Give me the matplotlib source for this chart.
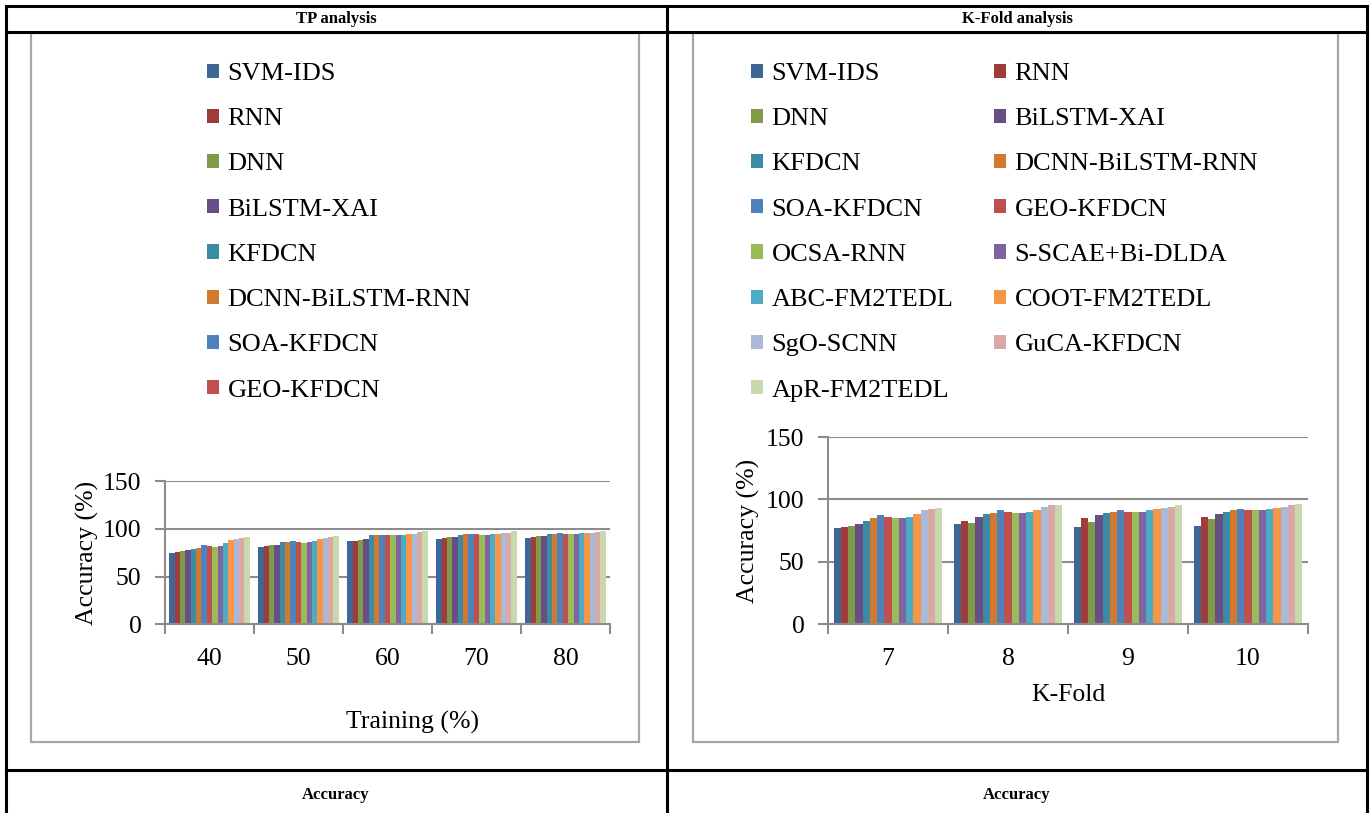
import matplotlib
matplotlib.use("Agg")
import matplotlib.pyplot as plt
import numpy as np
from matplotlib.lines import Line2D
from matplotlib.patches import Rectangle, Patch

plt.rcParams['font.family'] = ['Liberation Serif', 'DejaVu Serif']

# ---------------- data ----------------
methods = ["SVM-IDS", "RNN", "DNN", "BiLSTM-XAI", "KFDCN", "DCNN-BiLSTM-RNN",
           "SOA-KFDCN", "GEO-KFDCN", "OCSA-RNN", "S-SCAE+Bi-DLDA", "ABC-FM2TEDL",
           "COOT-FM2TEDL", "SgO-SCNN", "GuCA-KFDCN", "ApR-FM2TEDL"]
colors = ['#3E6696', '#A03D3B', '#809A48', '#674F86', '#3A8BA3', '#D0792F',
          '#4F81BD', '#C0504D', '#9BBB59', '#8064A2', '#4BACC6', '#F79646',
          '#AAB9D7', '#D9A9A8', '#C8D9AD']

training = ["40", "50", "60", "70", "80"]
# rows = methods, columns = training %
tp_acc = [
    [74.7, 80.6, 86.9, 89.8, 90.5],
    [75.8, 81.7, 87.7, 90.8, 91.6],
    [77.2, 82.7, 88.7, 91.6, 92.6],
    [78.2, 83.5, 89.8, 91.6, 92.6],
    [78.9, 85.9, 93.7, 93.7, 94.7],
    [80.0, 85.9, 93.7, 94.7, 94.7],
    [83.5, 87.7, 93.7, 94.7, 95.8],
    [82.1, 86.6, 93.7, 94.7, 94.7],
    [80.6, 85.6, 93.7, 93.7, 94.7],
    [82.1, 86.6, 93.7, 93.7, 94.7],
    [84.8, 87.7, 93.7, 94.7, 95.8],
    [88.7, 89.8, 94.7, 94.7, 95.8],
    [89.8, 90.8, 94.7, 95.8, 95.8],
    [90.8, 91.9, 96.1, 95.8, 96.8],
    [91.9, 92.9, 97.2, 97.2, 97.9],
]

kfold = ["7", "8", "9", "10"]
kf_acc = [
    [76.8, 80.0, 77.8, 78.9],
    [77.8, 82.9, 85.0, 86.1],
    [78.9, 81.0, 81.8, 84.0],
    [80.0, 86.1, 87.2, 88.2],
    [82.9, 88.2, 89.0, 90.1],
    [85.0, 89.0, 90.1, 91.2],
    [87.2, 91.2, 91.2, 92.2],
    [86.1, 90.1, 90.1, 91.2],
    [85.0, 89.0, 90.1, 91.2],
    [85.0, 89.0, 90.1, 91.2],
    [86.1, 90.1, 91.2, 92.2],
    [88.2, 91.2, 92.2, 93.0],
    [91.2, 94.1, 93.0, 94.1],
    [92.2, 95.2, 94.1, 95.2],
    [93.0, 95.2, 95.2, 96.3],
]

W, H = 1371, 813
fig = plt.figure(figsize=(W / 100, H / 100), dpi=100)

def fx(px):
    return px / W

def fy(py):
    return 1 - py / H

# ---------------- table frame ----------------
tl = 2.2
for (x0, y0, x1, y1) in [(6, 6, 1367, 6), (6, 32, 1367, 32), (6, 770, 1367, 770),
                         (6, 6, 6, 813), (667, 6, 667, 813), (1367, 6, 1367, 813)]:
    fig.add_artist(Line2D([fx(x0), fx(x1)], [fy(y0), fy(y1)], color='black',
                          lw=tl, solid_capstyle='projecting'))

# chart boxes
for (x0, y0, x1, y1) in [(31, 33, 639, 742), (693, 33, 1338, 742)]:
    fig.add_artist(Rectangle((fx(x0), fy(y1)), fx(x1) - fx(x0), fy(y0) - fy(y1),
                             fill=False, edgecolor='#a6a6a6', lw=1.6))

# headers
hdr = dict(fontsize=12, fontweight='bold', ha='center', va='center')
fig.text(fx(336), fy(19), "TP analysis", **hdr)
fig.text(fx(1017), fy(19), "K-Fold analysis", **hdr)
fig.text(fx(336), fy(795), "Accuracy", **hdr)
fig.text(fx(1017), fy(795), "Accuracy", **hdr)

FS = 18.5
GRID = '#8c8c8c'

def draw(ax, cats, data):
    n = len(data)
    x = np.arange(len(cats))
    w = 0.907 / n
    for i in range(n):
        ax.bar(x + (i - (n - 1) / 2) * w, data[i], width=w, color=colors[i], zorder=2)
    ax.set_xlim(-0.5, len(cats) - 0.5)
    ax.set_ylim(0, 150)
    ax.set_yticks([0, 50, 100, 150])
    ax.set_xticks(x)
    ax.set_xticklabels(cats)
    ax.set_xticks(np.arange(len(cats) + 1) - 0.5, minor=True)
    ax.tick_params(axis='x', which='major', length=0, labelsize=FS, pad=17)
    ax.tick_params(axis='x', which='minor', length=7, width=1.5, color=GRID)
    ax.tick_params(axis='y', length=7, width=1.5, color=GRID, labelsize=FS, pad=10)
    ax.set_axisbelow(True)
    ax.yaxis.grid(True, color=GRID, lw=1.5, zorder=0)
    for s in ['top', 'right']:
        ax.spines[s].set_visible(False)
    for s in ['left', 'bottom']:
        ax.spines[s].set_color(GRID)
        ax.spines[s].set_linewidth(1.5)
    ax.patch.set_alpha(0)

# left axes
axL = fig.add_axes([fx(165), fy(624.3), fx(610) - fx(165), fy(481) - fy(624.3)])
draw(axL, training, tp_acc)
axL.set_ylabel("Accuracy (%)", fontsize=FS, va='center', ha='center')
axL.yaxis.set_label_coords(-0.175, 0.5)
axL.set_xlabel("Training (%)", fontsize=FS, va='center', ha='center')
axL.xaxis.set_label_coords((412 - 165) / 445, -(722 - 624.3) / 143.3)

# right axes
axR = fig.add_axes([fx(828), fy(624.3), fx(1308) - fx(828), fy(437) - fy(624.3)])
draw(axR, kfold, kf_acc)
axR.set_ylabel("Accuracy (%)", fontsize=FS, va='center', ha='center')
axR.yaxis.set_label_coords(-(828 - 748) / 480, 0.5)
axR.set_xlabel("K-Fold", fontsize=FS, va='center', ha='center')
axR.xaxis.set_label_coords((1068 - 828) / 480, -(695 - 624.3) / 187.3)

# legends
LFS = 19
leg_kw = dict(frameon=False, fontsize=LFS, handlelength=0.45, handleheight=0.45,
              handletextpad=0.33, labelspacing=0.88, borderpad=0, borderaxespad=0,
              loc='upper left')

def handles(idx):
    return [Patch(facecolor=colors[i], edgecolor='none') for i in idx], [methods[i] for i in idx]

hL, lL = handles(range(8))
fig.legend(hL, lL, bbox_to_anchor=(fx(207), fy(63)), **leg_kw)

h1, l1 = handles(range(0, 15, 2))
fig.legend(h1, l1, bbox_to_anchor=(fx(751), fy(63)), **leg_kw)
h2, l2 = handles(range(1, 15, 2))
fig.legend(h2, l2, bbox_to_anchor=(fx(994), fy(63)), **leg_kw)

fig.savefig("out.png", dpi=100)
